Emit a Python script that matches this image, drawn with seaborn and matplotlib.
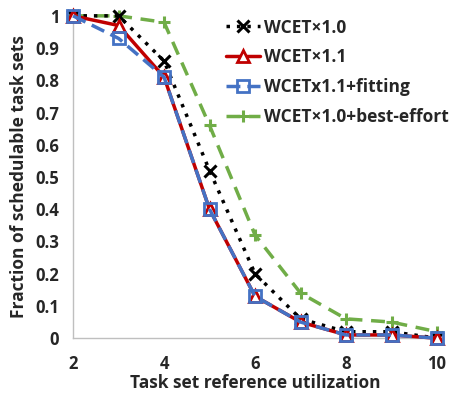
import matplotlib
matplotlib.use("Agg")
import matplotlib.pyplot as plt
import seaborn as sns
import pandas as pd

x_util = [2, 3, 4, 5, 6, 7, 8, 9, 10]
wcet10 = [1.0, 1.0, 0.86, 0.52, 0.20, 0.06, 0.02, 0.02, 0.0]
wcet11 = [1.0, 0.97, 0.81, 0.40, 0.13, 0.05, 0.01, 0.01, 0.0]
wcet11_fit = [1.0, 0.93, 0.81, 0.40, 0.13, 0.05, 0.01, 0.01, 0.0]
wcet10_be = [1.0, 1.0, 0.98, 0.66, 0.32, 0.14, 0.06, 0.05, 0.02]
labels = ["WCET×1.0", "WCET×1.1", "WCETx1.1+fitting", "WCET×1.0+best-effort"]

sns.set_theme(style="white")
plt.rcParams['font.family'] = ['Open Sans', 'DejaVu Sans']
plt.rcParams['font.weight'] = 'bold'

fig = plt.figure(figsize=(4.51, 3.96), dpi=100)
ax = fig.add_axes([0.162, 0.146, 0.807, 0.814])

series = [wcet10, wcet11, wcet11_fit, wcet10_be]
styles = [
    dict(color="black", linestyle=(0, (1, 2)), marker="x", markersize=8,
         markeredgecolor="black", markeredgewidth=2.2, lw=2.5, zorder=3),
    dict(color="#C00000", linestyle="-", marker="^", markersize=8, markerfacecolor="white",
         markeredgecolor="#C00000", markeredgewidth=2, lw=2.5, zorder=4),
    dict(color="#4472C4", linestyle=(0, (4, 2)), marker="s", markersize=9, markerfacecolor="none",
         markeredgecolor="#4472C4", markeredgewidth=2, lw=2.5, zorder=5),
    dict(color="#70AD47", linestyle=(0, (4, 2.5)), marker="+", markersize=9,
         markeredgecolor="#70AD47", markeredgewidth=2.2, lw=2.5, zorder=2),
]
for vals, lab, st in zip(series, labels, styles):
    df = pd.DataFrame({"x": x_util, "y": vals})
    sns.lineplot(data=df, x="x", y="y", ax=ax, label=lab, **st)

ax.set_xlim(2, 10)
ax.set_ylim(0, 1)
ax.set_xticks([2, 4, 6, 8, 10])
ax.set_yticks([i / 10 for i in range(11)])
ax.set_yticklabels(["0"] + [f"{i/10:.1f}" for i in range(1, 10)] + ["1"])
ax.tick_params(axis="both", labelsize=12, length=0)
ax.tick_params(axis="x", pad=12)
ax.tick_params(axis="y", pad=10)
for t in ax.get_xticklabels() + ax.get_yticklabels():
    t.set_fontweight("bold")
ax.set_xlabel("Task set reference utilization", fontsize=12.5, fontweight="bold", labelpad=1)
ax.set_ylabel("Fraction of schedulable task sets", fontsize=12.5, fontweight="bold", labelpad=5)
for s in ["top", "right"]:
    ax.spines[s].set_visible(False)
for s in ["left", "bottom"]:
    ax.spines[s].set_color("#BFBFBF")
    ax.spines[s].set_linewidth(1)
for l in ax.lines:
    l.set_clip_on(False)

leg = ax.legend(loc="upper right", bbox_to_anchor=(1.075, 1.04), frameon=False,
                prop={"weight": "bold", "size": 12.5}, handlelength=2.0, handletextpad=0.2,
                labelspacing=0.68)
fig.savefig("out.png", dpi=100)
